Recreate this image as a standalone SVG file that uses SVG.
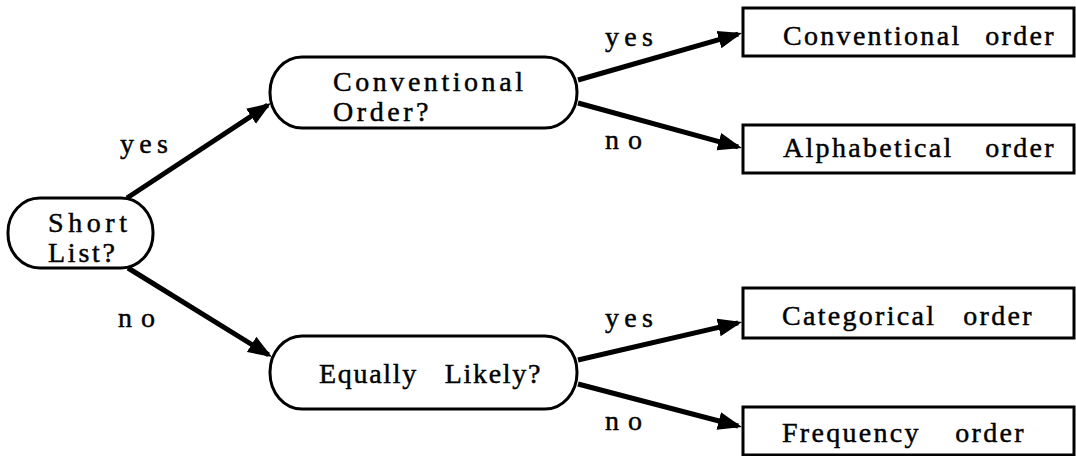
<svg xmlns="http://www.w3.org/2000/svg" width="1076" height="456" viewBox="0 0 1076 456">
  <style>
    .bg { fill: #ffffff; }
    .pill, .box { fill: #ffffff; stroke: #000000; stroke-width: 3; }
    .link { fill: none; stroke: #000000; stroke-width: 5; stroke-linecap: butt; }
    text { font-family: "Liberation Serif", "Times New Roman", serif; font-size: 28px; fill: #000000; stroke: #000000; stroke-width: 0.45; }
    .yes { letter-spacing: 5.3px; }
    .no { letter-spacing: 9px; }
    .res { letter-spacing: 2.3px; }
  </style>
  <defs>
    <marker id="arrow" viewBox="0 0 24 20" markerUnits="userSpaceOnUse" markerWidth="24" markerHeight="20" refX="20" refY="10" orient="auto">
      <path d="M0,1 L24,10 L0,19 z" fill="#000000"/>
    </marker>
  </defs>

  <rect class="bg" x="0" y="0" width="1076" height="456"/>

  <!-- connectors -->
  <g id="connectors">
    <line class="link" x1="127" y1="198" x2="267.7" y2="105.2" marker-end="url(#arrow)"/>
    <line class="link" x1="128" y1="268" x2="268.6" y2="354.9" marker-end="url(#arrow)"/>
    <line class="link" x1="578" y1="80" x2="738.2" y2="34.1" marker-end="url(#arrow)"/>
    <line class="link" x1="578" y1="103" x2="738.1" y2="146.9" marker-end="url(#arrow)"/>
    <line class="link" x1="578" y1="360" x2="738.1" y2="322.9" marker-end="url(#arrow)"/>
    <line class="link" x1="578" y1="384" x2="738.1" y2="426" marker-end="url(#arrow)"/>
  </g>

  <!-- branch labels -->
  <g id="labels">
    <text class="yes" x="120" y="153">yes</text>
    <text class="no" x="118" y="327">no</text>
    <text class="yes" x="605" y="46">yes</text>
    <text class="no" x="605" y="149">no</text>
    <text class="yes" x="605" y="327">yes</text>
    <text class="no" x="605" y="430">no</text>
  </g>

  <!-- decision nodes -->
  <g id="short-list">
    <rect class="pill" x="8" y="198" width="145" height="70" rx="32" ry="34"/>
    <text x="48" y="232" style="letter-spacing:4.6px">Short</text>
    <text x="48" y="262" style="letter-spacing:2.75px">List?</text>
  </g>

  <g id="conventional-order-q">
    <rect class="pill" x="270" y="57" width="307" height="71" rx="32" ry="35"/>
    <text x="333" y="91" style="letter-spacing:3.55px">Conventional</text>
    <text x="333" y="121" style="letter-spacing:3.55px">Order?</text>
  </g>

  <g id="equally-likely-q">
    <rect class="pill" x="270" y="336" width="307" height="73" rx="32" ry="36"/>
    <text y="383" style="letter-spacing:1.7px"><tspan x="319">Equally</tspan><tspan x="436"> Likely?</tspan></text>
  </g>

  <!-- outcome nodes -->
  <g id="conventional-order">
    <rect class="box" x="743" y="8" width="331" height="48"/>
    <text class="res" y="45"><tspan x="783">Conventional</tspan><tspan x="976"> order</tspan></text>
  </g>

  <g id="alphabetical-order">
    <rect class="box" x="743" y="125" width="331" height="48"/>
    <text class="res" y="157"><tspan x="783">Alphabetical</tspan><tspan x="976"> order</tspan></text>
  </g>

  <g id="categorical-order">
    <rect class="box" x="743" y="288" width="331" height="50"/>
    <text class="res" y="325"><tspan x="782">Categorical</tspan><tspan x="954"> order</tspan></text>
  </g>

  <g id="frequency-order">
    <rect class="box" x="743" y="407" width="331" height="48"/>
    <text class="res" y="442"><tspan x="782">Frequency</tspan><tspan x="946"> order</tspan></text>
  </g>
</svg>
